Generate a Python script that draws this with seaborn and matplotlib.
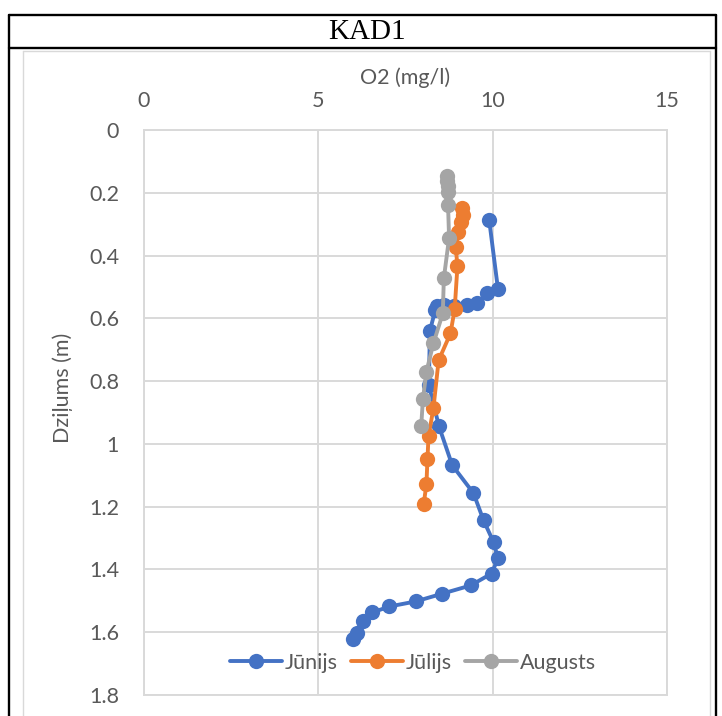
import numpy as np
import pandas as pd
import matplotlib
matplotlib.use("Agg")
import matplotlib.pyplot as plt
from matplotlib.lines import Line2D
import seaborn as sns

# Dissolved oxygen profiles at station KAD1
jun_o2 = [9.90, 10.15, 9.85, 9.55, 9.25, 8.90, 8.60, 8.40, 8.35, 8.20, 8.17, 8.46,
          8.84, 9.45, 9.74, 10.03, 10.15, 9.97, 9.37, 8.56, 7.79, 7.04, 6.55, 6.29,
          6.12, 5.98]
jun_depth = [0.287, 0.505, 0.520, 0.552, 0.557, 0.560, 0.556, 0.560, 0.575, 0.640,
             0.813, 0.944, 1.068, 1.157, 1.244, 1.314, 1.365, 1.413, 1.451, 1.477,
             1.502, 1.518, 1.537, 1.563, 1.601, 1.620]

jul_o2 = [9.11, 9.14, 9.08, 9.02, 8.94, 8.99, 8.91, 8.79, 8.45, 8.30, 8.16, 8.13,
          8.10, 8.02]
jul_depth = [0.249, 0.271, 0.293, 0.325, 0.373, 0.434, 0.571, 0.648, 0.734, 0.887,
             0.976, 1.049, 1.129, 1.193]

aug_o2 = [8.70, 8.70, 8.72, 8.73, 8.72, 8.75, 8.60, 8.57, 8.30, 8.10, 8.00, 7.95]
aug_depth = [0.147, 0.163, 0.179, 0.198, 0.239, 0.344, 0.472, 0.584, 0.680, 0.770,
             0.857, 0.944]

months = ["Jūnijs", "Jūlijs", "Augusts"]
colors = ["#4472C4", "#ED7D31", "#A5A5A5"]

df = pd.concat([
    pd.DataFrame({"O2": jun_o2, "depth": jun_depth, "month": months[0]}),
    pd.DataFrame({"O2": jul_o2, "depth": jul_depth, "month": months[1]}),
    pd.DataFrame({"O2": aug_o2, "depth": aug_depth, "month": months[2]}),
], ignore_index=True)

sns.set_theme(style="white")
plt.rcParams["font.family"] = ["Lato", "DejaVu Sans"]

W, H = 722, 716
fig = plt.figure(figsize=(W / 100, H / 100), dpi=100)
fig.patch.set_facecolor("white")

# plot area in pixel units
L, R, T, B = 144, 667, 130, 695
ax = fig.add_axes([L / W, 1 - B / H, (R - L) / W, (B - T) / H])

grid_c = "#D9D9D9"
text_c = "#595959"
fs = 15.5
ms = 11
lw = 2.8

sns.lineplot(data=df, x="O2", y="depth", hue="month", hue_order=months,
             palette=colors, sort=False, estimator=None, marker="o",
             markersize=ms, markeredgewidth=0, linewidth=lw, ax=ax,
             legend=False, zorder=3)

ax.set_xlim(0, 15)
ax.set_ylim(1.8, 0)
ax.set_xticks([0, 5, 10, 15])
ax.set_yticks(np.round(np.arange(0, 1.81, 0.2), 1))
ax.set_yticklabels(["0", "0.2", "0.4", "0.6", "0.8", "1", "1.2", "1.4", "1.6", "1.8"])
ax.xaxis.tick_top()
ax.xaxis.set_label_position("top")
ax.tick_params(axis="both", length=0, labelsize=fs, colors=text_c)
ax.tick_params(axis="x", pad=14)
ax.tick_params(axis="y", pad=18)
ax.grid(True, color=grid_c, linewidth=1.4)
ax.set_axisbelow(True)
for s in ax.spines.values():
    s.set_color(grid_c)
    s.set_linewidth(1.4)

ax.set_xlabel("O2 (mg/l)", fontsize=fs, color=text_c, labelpad=5)
ax.set_ylabel("Dziļums (m)", fontsize=fs, color=text_c)
ax.yaxis.set_label_coords((63 - L) / (R - L), 1 - (388 - T) / (B - T))
ax.yaxis.label.set_va("center")

handles = [Line2D([0], [0], color=c, lw=lw, marker="o", markersize=ms,
                  markeredgewidth=0) for c in colors]
leg = ax.legend(handles, months, loc="center",
                bbox_to_anchor=((413 - L) / (R - L), 1 - (663 - T) / (B - T)),
                ncol=3, frameon=False, fontsize=fs, handlelength=2.4,
                handletextpad=0.15, columnspacing=0.6)
for t in leg.get_texts():
    t.set_color(text_c)

# chart frame (light) and surrounding table cell borders
def fline(x0, y0, x1, y1, **kw):
    fig.add_artist(Line2D([x0 / W, x1 / W], [1 - y0 / H, 1 - y1 / H],
                          transform=fig.transFigure, **kw))

fline(23, 51, 23, H, color=grid_c, lw=1.0)
fline(23, 51, 710, 51, color=grid_c, lw=1.0)
fline(710, 51, 710, H, color=grid_c, lw=1.0)

fline(9, 15, 9, H, color="black", lw=1.7)
fline(716, 15, 716, H, color="black", lw=1.7)
fline(9, 15, 716, 15, color="black", lw=1.7)
fline(9, 48, 716, 48, color="black", lw=1.7)

fig.text(367 / W, 1 - 32 / H, "KAD1", ha="center", va="center",
         fontsize=21, color="black", family=["Liberation Serif", "DejaVu Serif"])

fig.savefig("out.png", dpi=100, facecolor="white")
